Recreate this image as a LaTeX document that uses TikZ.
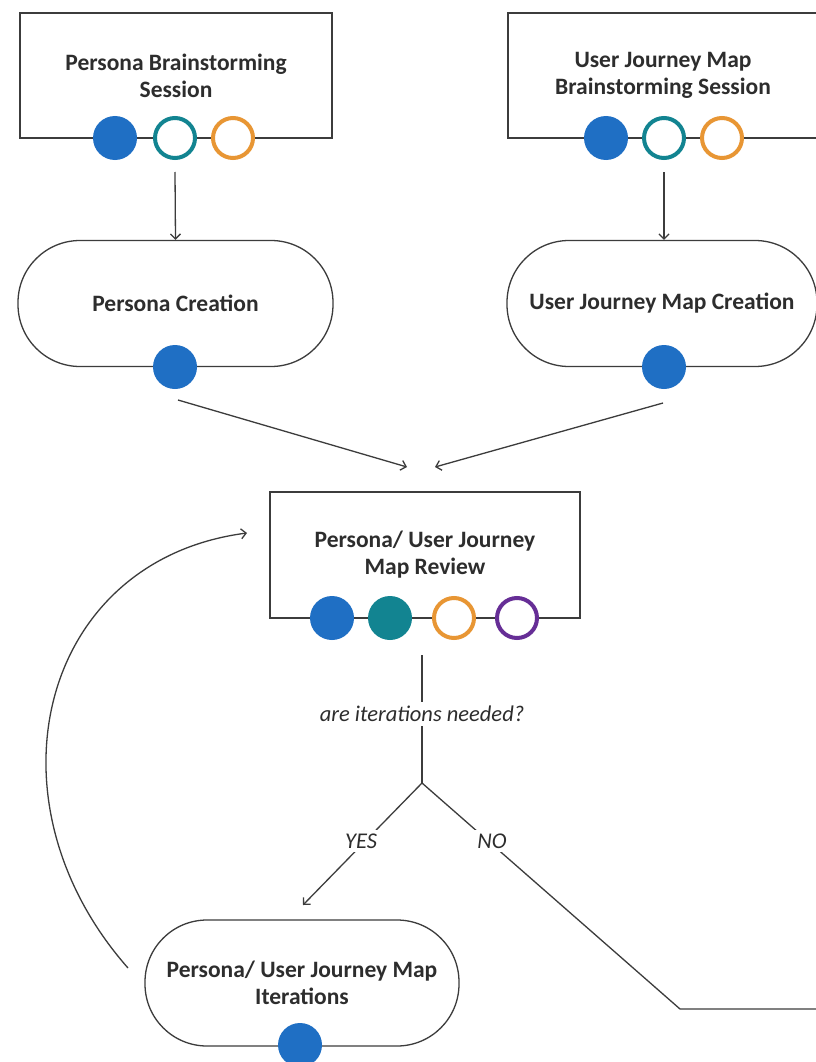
\documentclass[tikz,border=0pt]{standalone}
\usepackage{fontspec}
\setmainfont{Carlito}
\usetikzlibrary{arrows.meta}
\definecolor{lc}{RGB}{60,60,60}
\definecolor{tc}{RGB}{45,45,45}
\definecolor{cblue}{RGB}{31,111,196}
\definecolor{cteal}{RGB}{18,132,145}
\definecolor{corange}{RGB}{232,150,52}
\definecolor{cpurple}{RGB}{102,46,150}
\tikzset{
  box/.style={draw=lc, line width=1.3pt, fill=white, rectangle, minimum width=312pt, minimum height=125pt, align=center, text=tc, font=\fontsize{23.5}{27}\selectfont\bfseries},
  pill/.style={box, rounded corners=62pt, minimum height=126pt},
  dotfill/.style={circle, fill=#1, minimum size=44pt, inner sep=0pt},
  dotring/.style={circle, draw=#1, fill=white, line width=4pt, minimum size=40pt, inner sep=0pt},
  conn/.style={draw=lc, line width=1.3pt},
  arr/.style={conn, -{Straight Barb[length=5pt,width=10pt]}},
  lbl/.style={fill=white, text=tc, font=\fontsize{22.5}{26}\selectfont\itshape, inner sep=4pt}
}
\begin{document}
\begin{tikzpicture}[x=1pt, y=-1pt]
\useasboundingbox (0,0) rectangle (815,1062);
\fill[white] (0,0) rectangle (815,1062);

% top boxes
\node[box] (pbs) at (176,75.5) {Persona Brainstorming\\Session};
\node[box, minimum width=310pt] (ubs) at (663,75.5) {User Journey Map\\Brainstorming Session};
\node[dotfill=cblue] (pbs1) at (115,138) {};
\node[dotring=cteal] (pbs2) at (175,138) {};
\node[dotring=corange] (pbs3) at (233,138) {};
\node[dotfill=cblue] (ubs1) at (606,138) {};
\node[dotring=cteal] (ubs2) at (664,138) {};
\node[dotring=corange] (ubs3) at (722,138) {};

% creation pills
\node[pill, minimum width=315pt] (pc) at (175.5,303.5) {Persona Creation};
\node[pill, minimum width=310pt] (uc) at (662,303.5) {User Journey Map Creation};
\node[dotfill=cblue] (pc1) at (175,367) {};
\node[dotfill=cblue] (uc1) at (664,367) {};

% review box
\node[box, minimum width=310pt, minimum height=126pt] (rev) at (425,555) {Persona/ User Journey\\Map Review};
\node[dotfill=cblue] (rev1) at (332,618) {};
\node[dotfill=cteal] (rev2) at (390,618) {};
\node[dotring=corange] (rev3) at (454,618) {};
\node[dotring=cpurple] (rev4) at (517,618) {};

% iterations pill
\node[pill, minimum width=314pt] (it) at (302,983) {Persona/ User Journey Map\\Iterations};
\node[dotfill=cblue] (it1) at (300,1045) {};

% coordinates
\coordinate (pArrS) at (175,172);
\coordinate (uArrS) at (664,172);
\coordinate (pDiagS) at (178,400);
\coordinate (pDiagE) at (407,467);
\coordinate (uDiagS) at (663,403);
\coordinate (uDiagE) at (435,467);
\coordinate (qtop) at (422,655);
\coordinate (fork) at (422,783);
\coordinate (yesTip) at (303,905);
\coordinate (noBend) at (680,1009);
\coordinate (noEnd) at (830,1009);
\coordinate (loopS) at (128,968);
\coordinate (loopE) at (247,533);

% connectors
\draw[arr] (pArrS) -- (pc.north);
\draw[arr] (uArrS) -- (uc.north -| uArrS);
\draw[arr] (pDiagS) -- (pDiagE);
\draw[arr] (uDiagS) -- (uDiagE);
\draw[conn] (qtop) -- (fork);
\draw[arr] (fork) -- (yesTip);
\draw[conn] (fork) -- (noBend) -- (noEnd);
\draw[arr] (loopS) .. controls (-20,800) and (40,560) .. (loopE);

% labels
\node[lbl] (q) at (422,714) {are iterations needed?};
\node[lbl] (yes) at (361,841) {YES};
\node[lbl] (no) at (492,841) {NO};
\end{tikzpicture}
\end{document}
